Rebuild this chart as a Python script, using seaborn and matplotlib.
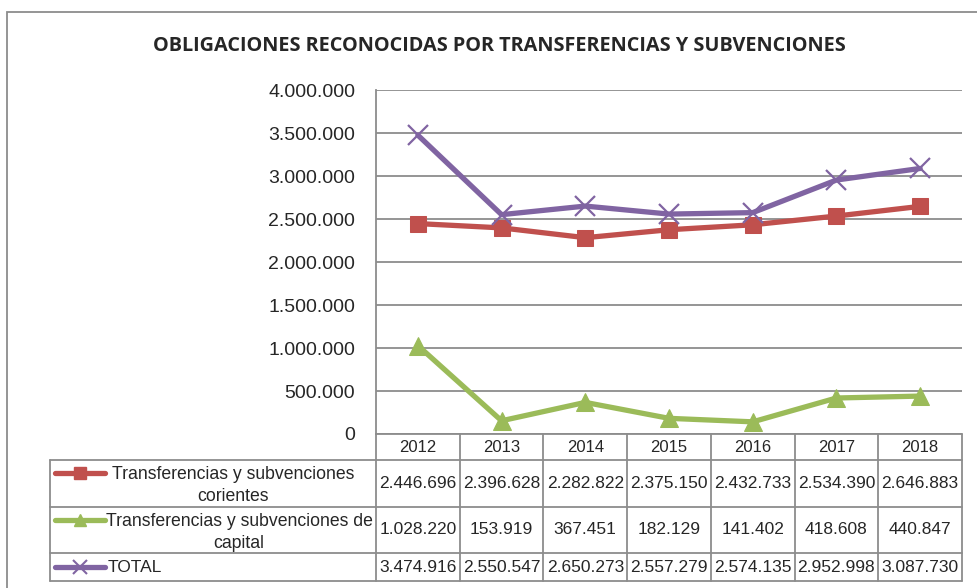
import numpy as np
import pandas as pd
import seaborn as sns
import matplotlib.pyplot as plt
from matplotlib.lines import Line2D
from matplotlib.patches import Rectangle

years = ['2012', '2013', '2014', '2015', '2016', '2017', '2018']
corrientes = [2446696, 2396628, 2282822, 2375150, 2432733, 2534390, 2646883]
capital = [1028220, 153919, 367451, 182129, 141402, 418608, 440847]
total = [3474916, 2550547, 2650273, 2557279, 2574135, 2952998, 3087730]
series_names = ['Transferencias y subvenciones\ncorientes',
                'Transferencias y subvenciones de\ncapital',
                'TOTAL']

colors = ['#C0504D', '#9BBB59', '#8064A2']
markers = ['s', '^', 'x']

W, H = 977, 588


def fx(x):
    return x / W


def fy(y):
    return 1 - y / H


def miles(v):
    # separador de miles con punto
    return f'{v:,}'.replace(',', '.')


sns.set_style('white')
plt.rcParams['font.family'] = ['Liberation Sans', 'DejaVu Sans']

fig = plt.figure(figsize=(W / 100, H / 100), dpi=100)
ax = fig.add_axes([fx(376), fy(434), fx(962) - fx(376), fy(90) - fy(434)])

df = pd.DataFrame({'pos': np.arange(len(years)), 'a': corrientes, 'b': capital, 'c': total})
for col, c, m in zip(['a', 'b', 'c'], colors, markers):
    kw = dict(markersize=11, markeredgecolor=c)
    if m == 'x':
        kw = dict(markersize=15, markeredgewidth=1.6, markeredgecolor=c)
    elif m == '^':
        kw = dict(markersize=13, markeredgecolor=c)
    sns.lineplot(data=df, x='pos', y=col, ax=ax, color=c, linewidth=3.8,
                 marker=m, legend=False, zorder=3, **kw)

ax.set_xlim(-0.5, len(years) - 0.5)
ax.set_ylim(0, 4000000)
yt = np.arange(0, 4000001, 500000)
ax.set_yticks(yt)
ax.set_yticklabels([miles(v) for v in yt], fontsize=14)
ax.set_xticks([])
ax.set_xlabel('')
ax.set_ylabel('')
ax.tick_params(axis='y', length=0, pad=15)
ax.yaxis.grid(True, color='#8c8c8c', linewidth=1.3)
ax.xaxis.grid(False)
for s in ['top', 'right']:
    ax.spines[s].set_visible(False)
ax.spines['left'].set_color('#8c8c8c')
ax.spines['left'].set_linewidth(1.3)
ax.spines['bottom'].set_visible(False)

# marco exterior
fig.patches.append(Rectangle((fx(7), fy(600)), fx(1000), fy(12) - fy(600),
                             transform=fig.transFigure, fill=False,
                             edgecolor='#8c8c8c', linewidth=1.3))

fig.text(fx(499), fy(46), 'OBLIGACIONES RECONOCIDAS POR TRANSFERENCIAS Y SUBVENCIONES',
         ha='center', va='center', fontsize=14.3, fontweight='bold',
         family=['Open Sans', 'DejaVu Sans'])

# tabla de datos
gc = '#8c8c8c'
col_x = np.linspace(376, 962, len(years) + 1)
rows_y = [434, 460, 507, 553, 581]


def hline(y, x0, x1):
    fig.lines.append(Line2D([fx(x0), fx(x1)], [fy(y), fy(y)], transform=fig.transFigure,
                            color=gc, linewidth=1.3))


def vline(x, y0, y1):
    fig.lines.append(Line2D([fx(x), fx(x)], [fy(y0), fy(y1)], transform=fig.transFigure,
                            color=gc, linewidth=1.3))


hline(434, 376, 962)
for y in rows_y[1:]:
    hline(y, 50, 962)
for x in col_x:
    vline(x, 434, 581)
vline(50, 460, 581)

centers = (col_x[:-1] + col_x[1:]) / 2
for cx, yr in zip(centers, years):
    fig.text(fx(cx), fy(447), yr, ha='center', va='center', fontsize=12)

all_vals = [corrientes, capital, total]
for r, vals in enumerate(all_vals):
    cy = (rows_y[r + 1] + rows_y[r + 2]) / 2
    for cx, v in zip(centers, vals):
        fig.text(fx(cx), fy(cy), miles(v), ha='center', va='center', fontsize=12.5)

# leyenda dentro de la tabla
legend_y = [473, 520, 567]
text_cx = [233, 239, 108]
for name, c, m, ly, tcx in zip(series_names, colors, markers, legend_y, text_cx):
    kw = dict(markersize=9, markeredgecolor=c)
    if m == 'x':
        kw = dict(markersize=10, markeredgewidth=1.5, markeredgecolor=c)
    fig.lines.append(Line2D([fx(55), fx(80), fx(105)], [fy(ly)] * 3,
                            transform=fig.transFigure, color=c, linewidth=3.8,
                            marker=m, markevery=[1], solid_capstyle='round', **kw))
    if name == 'TOTAL':
        fig.text(fx(tcx), fy(ly), name, ha='left', va='center', fontsize=12.5)
    else:
        fig.text(fx(tcx), fy(ly - 7), name, ha='center', va='top', fontsize=12.7,
                 multialignment='center', linespacing=1.42)

fig.savefig('out.png', dpi=100)
